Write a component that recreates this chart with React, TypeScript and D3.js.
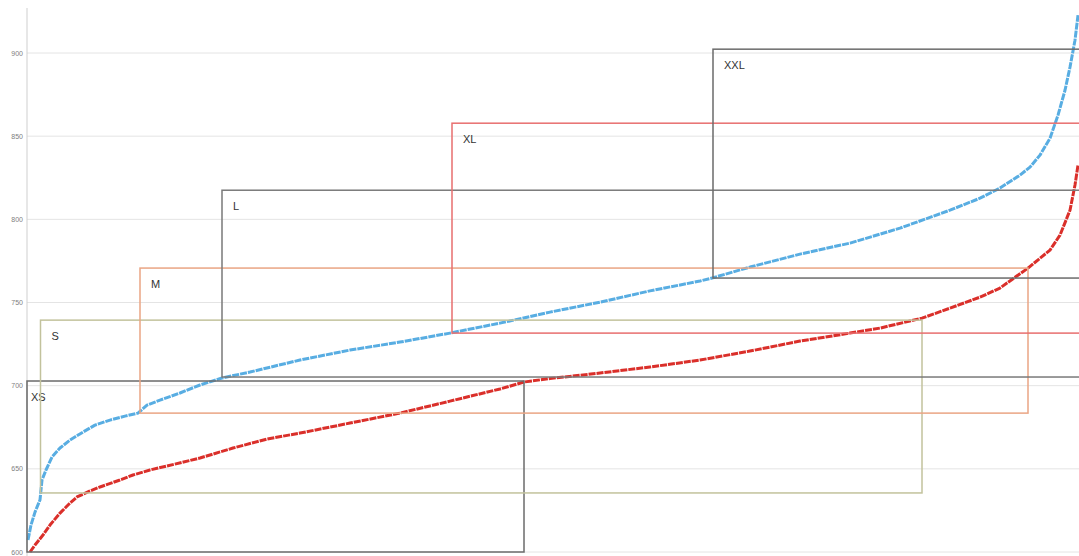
import React from "react";
import * as d3 from "d3";

const W = 1079;
const H = 556;

const yTicks = [600, 650, 700, 750, 800, 850, 900];

// rank index (0..1052) and value for the blue series
const blueIdx = [1, 4, 8, 13, 15, 19, 25, 33, 43, 56, 68, 83, 98, 111, 120, 133, 153, 173, 195, 223, 273, 323, 373, 423, 473, 523, 573, 623, 673, 685, 723, 773, 823, 873, 923, 953, 973, 993, 1003, 1013, 1023, 1031, 1038, 1043, 1048, 1051];
const blueVal = [607.2, 616.2, 624.0, 631.3, 643.3, 649.3, 657.1, 662.5, 667.3, 672.1, 676.3, 679.3, 681.7, 683.5, 688.3, 691.3, 695.6, 700.4, 704.6, 708.2, 715.4, 721.4, 726.2, 731.6, 737.6, 744.2, 750.2, 757.0, 762.9, 764.7, 771.3, 779.1, 785.7, 794.7, 805.5, 812.7, 818.8, 826.6, 831.4, 838.6, 848.8, 862.6, 877.6, 891.5, 907.7, 922.7];

const redIdx = [3, 8, 16, 23, 33, 43, 50, 63, 73, 93, 106, 123, 140, 173, 206, 240, 273, 323, 373, 423, 473, 497, 523, 573, 623, 673, 723, 773, 823, 853, 895, 923, 953, 973, 1001, 1023, 1033, 1043, 1048, 1051];
const redVal = [600, 604.2, 610.2, 616.2, 623.4, 629.4, 633.1, 636.7, 639.1, 643.3, 646.3, 649.3, 651.7, 656.5, 662.5, 667.9, 671.5, 677.5, 683.5, 690.7, 698.0, 702.2, 704.3, 707.6, 711.2, 715.4, 720.8, 726.8, 731.6, 734.6, 740.6, 746.6, 753.2, 758.7, 770.7, 781.5, 790.5, 805.5, 820.6, 832.6];

// size boxes: rank range and value range
const sizeNames = ["XS", "S", "M", "L", "XL", "XXL"];
const sizeX0 = [0, 13.5, 113, 195, 425, 686];
const sizeX1 = [497, 895, 1001, 1080, 1080, 1080];
const sizeY0 = [600, 635.5, 683.5, 705.2, 731.6, 764.7];
const sizeY1 = [702.8, 739.4, 770.7, 817.5, 857.8, 902.3];
const sizeColor = ["#6b6b6b", "#c2c29c", "#eaa584", "#7a7a7a", "#e86f6f", "#6b6b6b"];

export default function App() {
  const left = 27;
  const x = d3.scaleLinear().domain([0, 1052]).range([left, W]);
  const y = d3.scaleLinear().domain([600, 900]).range([552, 53]);

  const line = d3
    .line<[number, number]>()
    .x((d) => x(d[0]))
    .y((d) => y(d[1]))
    .curve(d3.curveLinear);

  const blue = blueIdx.map((v, i) => [v, blueVal[i]] as [number, number]);
  const red = redIdx.map((v, i) => [v, redVal[i]] as [number, number]);

  return (
    <svg
      width={W}
      height={H}
      style={{ position: "absolute", left: 0, top: 0, background: "#fff" }}
      fontFamily="Liberation Sans, Arial, sans-serif"
    >
      {yTicks.map((t) => (
        <g key={t}>
          <line x1={left} x2={W} y1={y(t)} y2={y(t)} stroke="#e4e4e4" strokeWidth={1} />
          <text x={23} y={y(t) + 2.5} fontSize={7} fill="#808080" textAnchor="end">
            {t}
          </text>
        </g>
      ))}
      <line x1={left} x2={left} y1={8} y2={H} stroke="#cfcfcf" strokeWidth={1} />

      <path d={line(blue) || ""} fill="none" stroke="#58ade2" strokeWidth={3} strokeLinejoin="round" strokeDasharray="7 1" />
      <path d={line(red) || ""} fill="none" stroke="#da2f2a" strokeWidth={3} strokeLinejoin="round" strokeDasharray="7 1" />

      {sizeNames.map((n, i) => {
        const rx = x(sizeX0[i]);
        const ry = y(sizeY1[i]);
        const rw = x(sizeX1[i]) - rx;
        const rh = y(sizeY0[i]) - ry;
        return (
          <g key={n}>
            <rect x={rx} y={ry} width={rw} height={rh} fill="none" stroke={sizeColor[i]} strokeWidth={1.5} />
            <text x={rx + (i === 0 ? 4 : 11)} y={ry + 20} fontSize={11} fill="#333">
              {n}
            </text>
          </g>
        );
      })}
    </svg>
  );
}
